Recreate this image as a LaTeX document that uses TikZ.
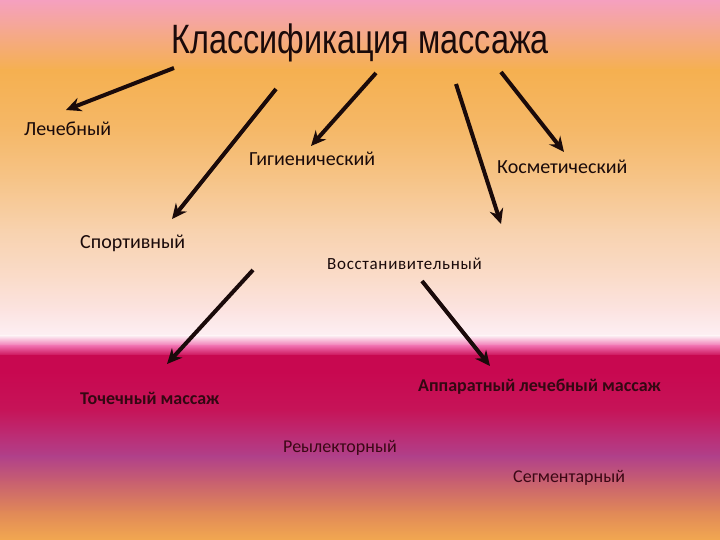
\documentclass[tikz,border=0pt]{standalone}
\usepackage{fontspec}
\setmainfont{Carlito}
\newfontfamily\titlefont[FakeStretch=0.79]{Liberation Sans}
\usetikzlibrary{arrows.meta}
\definecolor{c0}{HTML}{F5A0C0}
\definecolor{c1}{HTML}{F5A890}
\definecolor{c2}{HTML}{F5B050}
\definecolor{c3}{HTML}{F5B868}
\definecolor{c4}{HTML}{F6C488}
\definecolor{c5}{HTML}{F8D2AE}
\definecolor{c6}{HTML}{FADCCB}
\definecolor{c7}{HTML}{FCE4E2}
\definecolor{c8}{HTML}{FDF0F4}
\definecolor{c9}{HTML}{F070B0}
\definecolor{c10}{HTML}{C80850}
\definecolor{c11}{HTML}{C61458}
\definecolor{c12}{HTML}{BC2C74}
\definecolor{c13}{HTML}{B0408A}
\definecolor{c14}{HTML}{C86070}
\definecolor{c15}{HTML}{E08858}
\definecolor{c16}{HTML}{F2A850}
\definecolor{ink}{HTML}{1A0A0A}
\tikzset{
  lbl/.style={font=\fontsize{20}{22}\selectfont, text=ink, inner sep=0pt},
  mlbl/.style={font=\fontsize{18}{20}\selectfont, text=ink!80!purple, inner sep=0pt},
  blbl/.style={font=\fontsize{18}{20}\selectfont\bfseries, text=ink!85!purple, inner sep=0pt},
  arr/.style={line width=4pt, draw=ink, -{Stealth[length=15pt,width=14pt,inset=5pt]}},
}
\begin{document}
\begin{tikzpicture}[x=1pt,y=-1pt]
\useasboundingbox (0,0) rectangle (720,540);
% background bands
\foreach \ya/\yb/\ca/\cb in {0/30/c0/c1, 30/70/c1/c2, 70/130/c2/c3, 130/180/c3/c4, 180/230/c4/c5, 230/280/c5/c6, 280/312/c6/c7, 312/336/c7/c8, 336/346/c8/c9, 346/356/c9/c10, 356/372/c10/c10, 372/410/c10/c11, 410/435/c11/c12, 435/456/c12/c13, 456/482/c13/c14, 482/512/c14/c15, 512/540/c15/c16}
  \shade[top color=\ca, bottom color=\cb] (-1,\ya-0.5) rectangle (721,\yb+0.5);
% texts
\node[font=\titlefont\fontsize{41}{44}\selectfont, text=ink, inner sep=0pt, anchor=base] (title) at (360,54) {Классификация массажа};
\node[lbl, anchor=base west] (lech) at (24,136) {Лечебный};
\node[lbl, anchor=base west] (gig) at (249,166) {Гигиенический};
\node[lbl, anchor=base west] (kosm) at (497,174) {Косметический};
\node[lbl, anchor=base west] (sport) at (80,248) {Спортивный};
\node[lbl, anchor=base west, font=\fontsize{17}{20}\selectfont\addfontfeatures{LetterSpace=4}] (vosst) at (327,269) {Восстанивительный};
\node[blbl, anchor=base west] (toch) at (80,404) {Точечный массаж};
\node[blbl, anchor=base west] (appar) at (418,391) {Аппаратный лечебный массаж};
\node[mlbl, anchor=base west] (refl) at (283,452) {Реылекторный};
\node[mlbl, anchor=base west] (segm) at (513,482) {Сегментарный};
% arrow end points
\coordinate (s1) at (174,68);  \coordinate (e1) at (66,110);
\coordinate (s2) at (276,89);  \coordinate (e2) at (172,219);
\coordinate (s3) at (376,73);  \coordinate (e3) at (311,146);
\coordinate (s4) at (456,84);  \coordinate (e4) at (501,224);
\coordinate (s5) at (501,72);  \coordinate (e5) at (564,152);
\coordinate (s6) at (253,270); \coordinate (e6) at (167,364);
\coordinate (s7) at (422,281); \coordinate (e7) at (490,366);
\foreach \i in {1,...,7} \draw[arr] (s\i) -- (e\i);
\end{tikzpicture}
\end{document}
